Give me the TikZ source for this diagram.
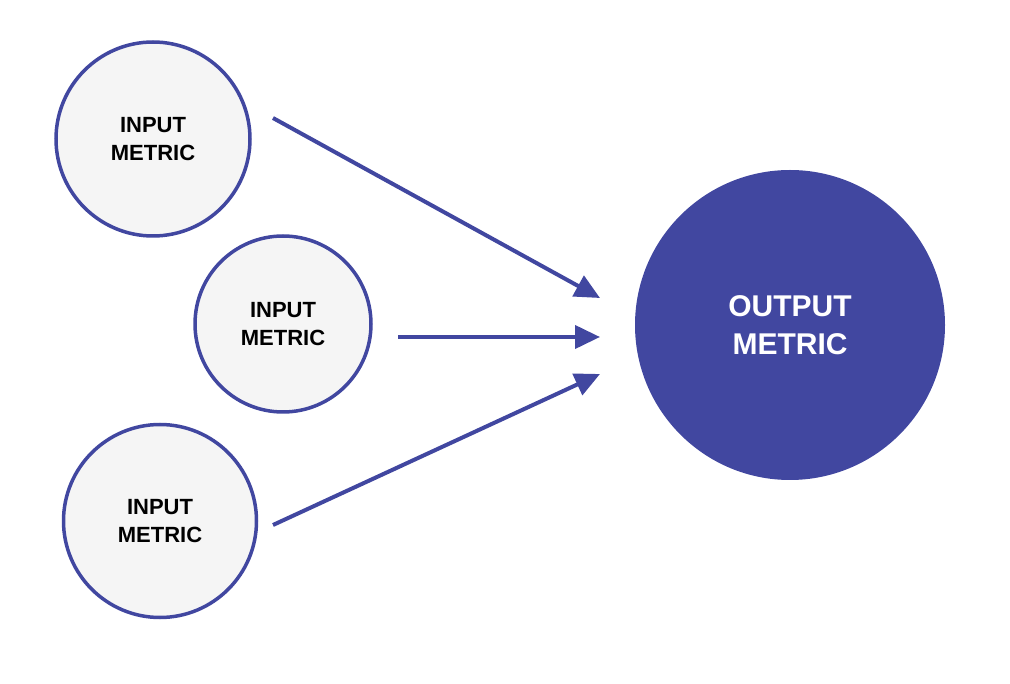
\documentclass[tikz,border=0pt]{standalone}
\usepackage{fontspec}
\setmainfont{Liberation Sans}
\usetikzlibrary{arrows.meta}
\definecolor{indig}{HTML}{4147A0}
\definecolor{pale}{HTML}{F5F5F5}
\tikzset{
  inmetric/.style={circle, draw=indig, line width=3.5pt, fill=pale, inner sep=0pt,
    font=\fontsize{22}{28}\selectfont\bfseries, text=black, align=center},
  outmetric/.style={circle, fill=indig, inner sep=0pt,
    font=\fontsize{30}{38}\selectfont\bfseries, text=white, align=center},
  conn/.style={draw=indig, line width=4pt, -{Triangle[length=25pt,width=23pt]}}
}
\begin{document}
\begin{tikzpicture}[x=1pt,y=-1pt]
\useasboundingbox (0,0) rectangle (1010,684);
\node[inmetric, minimum size=194pt] (in1) at (153,139) {INPUT\\METRIC};
\node[inmetric, minimum size=176pt] (in2) at (283,324) {INPUT\\METRIC};
\node[inmetric, minimum size=193pt] (in3) at (160,521) {INPUT\\METRIC};
\node[outmetric, minimum size=310pt] (out) at (790,325) {OUTPUT\\METRIC};
\coordinate (s1) at (273,118);
\coordinate (e1) at (600,298);
\coordinate (s2) at (398,337);
\coordinate (e2) at (600,337);
\coordinate (s3) at (273,525);
\coordinate (e3) at (600,374);
\draw[conn] (s1) -- (e1);
\draw[conn] (s2) -- (e2);
\draw[conn] (s3) -- (e3);
\end{tikzpicture}
\end{document}
